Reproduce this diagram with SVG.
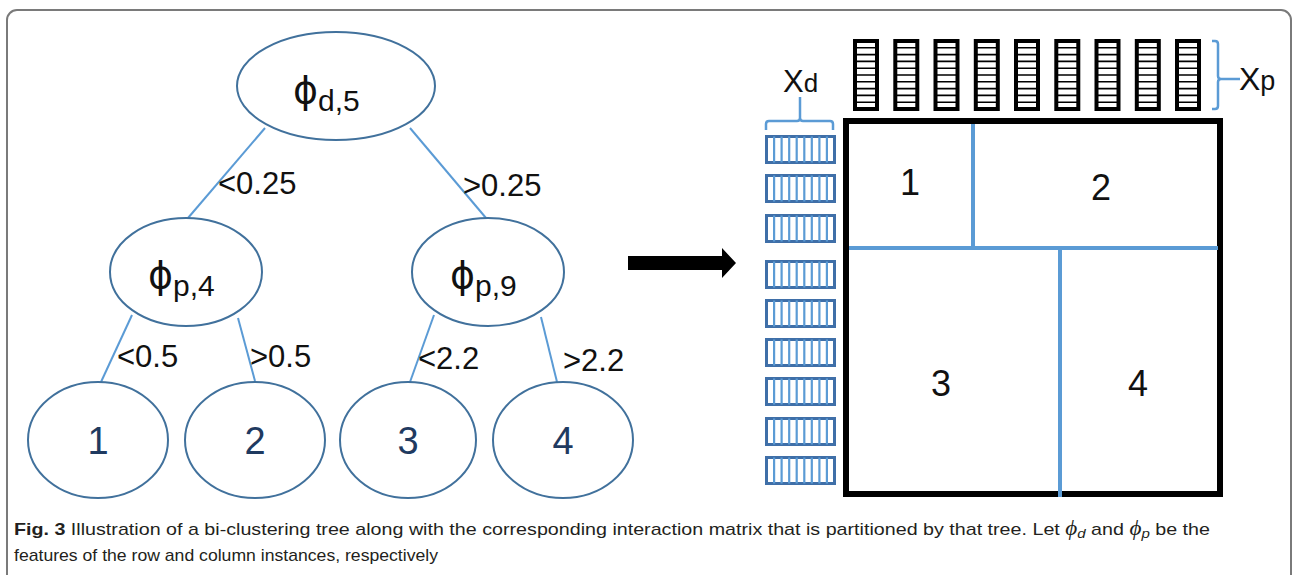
<svg xmlns="http://www.w3.org/2000/svg" xmlns:xlink="http://www.w3.org/1999/xlink" width="1292" height="575" viewBox="0 0 1292 575">
<style>
.node{fill:#fff;stroke:#41719C;stroke-width:2}
.edge{stroke:#5B9BD5;stroke-width:2;fill:none}
.lbl{font-family:"Liberation Sans",Arial,sans-serif;font-size:31px;fill:#111}
.phi{font-family:"DejaVu Sans","Liberation Sans",sans-serif;fill:#111}
.leaf{font-family:"Liberation Sans",Arial,sans-serif;font-size:38px;fill:#1F3A60;text-anchor:middle}
.mnum{font-family:"Liberation Sans",Arial,sans-serif;font-size:36px;fill:#111;text-anchor:middle}
.part{stroke:#5B9BD5;stroke-width:4}
.cap{font-family:"Liberation Sans",Arial,sans-serif;font-size:17px;fill:#231F20}
</style>
<defs>
<g id="colblock">
<rect x="2" y="2" width="22" height="68" fill="#fff" stroke="#000" stroke-width="4"/>
<path d="M2,8.8H24M2,15.6H24M2,22.4H24M2,29.2H24M2,36H24M2,42.8H24M2,49.6H24M2,56.4H24M2,63.2H24" stroke="#000" stroke-width="1.6"/>
</g>
<g id="rowblock">
<rect x="1.5" y="1.5" width="68" height="26" fill="#fff" stroke="#3F6FA8" stroke-width="3"/>
<path d="M9.1,1.5V27.5M16.6,1.5V27.5M24.2,1.5V27.5M31.7,1.5V27.5M39.3,1.5V27.5M46.8,1.5V27.5M54.4,1.5V27.5M61.9,1.5V27.5" stroke="#5B9BD5" stroke-width="2.2"/>
</g>
</defs>
<rect x="0" y="0" width="1292" height="575" fill="#fff"/>
<rect id="frame" x="7" y="10" width="1284" height="620" rx="10" fill="none" stroke="#7A7A7A" stroke-width="2"/>

<g id="connectors">
<line class="edge" x1="265" y1="128" x2="188" y2="218"/>
<line class="edge" x1="410" y1="128" x2="486" y2="218"/>
<line class="edge" x1="132" y1="315" x2="101" y2="382"/>
<line class="edge" x1="238" y1="318" x2="255" y2="381"/>
<line class="edge" x1="434" y1="315" x2="410" y2="382"/>
<line class="edge" x1="541" y1="317" x2="557" y2="382"/>
<text class="lbl" x="218" y="194">&lt;0.25</text>
<text class="lbl" x="463" y="196">&gt;0.25</text>
<text class="lbl" x="117" y="367">&lt;0.5</text>
<text class="lbl" x="250" y="367">&gt;0.5</text>
<text class="lbl" x="418" y="369">&lt;2.2</text>
<text class="lbl" x="563" y="371">&gt;2.2</text>
</g>

<g id="root">
<ellipse class="node" cx="336" cy="86" rx="99" ry="54"/>
<text class="phi" x="293" y="103"><tspan font-size="38">ϕ</tspan><tspan font-size="30" dy="8" font-family="Liberation Sans">d,5</tspan></text>
</g>
<g id="n_p4">
<ellipse class="node" cx="186" cy="272" rx="76" ry="54"/>
<text class="phi" x="148" y="288"><tspan font-size="38">ϕ</tspan><tspan font-size="30" dy="8" font-family="Liberation Sans">p,4</tspan></text>
</g>
<g id="n_p9">
<ellipse class="node" cx="488" cy="272" rx="76" ry="54"/>
<text class="phi" x="450" y="288"><tspan font-size="38">ϕ</tspan><tspan font-size="30" dy="8" font-family="Liberation Sans">p,9</tspan></text>
</g>
<g id="leaf1">
<ellipse class="node" cx="98" cy="440" rx="70" ry="58"/>
<text class="leaf" x="98" y="454">1</text>
</g>
<g id="leaf2">
<ellipse class="node" cx="255" cy="440" rx="70" ry="58"/>
<text class="leaf" x="255" y="454">2</text>
</g>
<g id="leaf3">
<ellipse class="node" cx="408" cy="440" rx="68" ry="58"/>
<text class="leaf" x="408" y="454">3</text>
</g>
<g id="leaf4">
<ellipse class="node" cx="563" cy="440" rx="70" ry="58"/>
<text class="leaf" x="563" y="454">4</text>
</g>

<g id="arrow">
<polygon points="628,256 722,256 722,248 736,263 722,278 722,270 628,270" fill="#000"/>
</g>

<g id="columns">
<use xlink:href="#colblock" x="853" y="39"/>
<use xlink:href="#colblock" x="893.3" y="39"/>
<use xlink:href="#colblock" x="933.5" y="39"/>
<use xlink:href="#colblock" x="973.8" y="39"/>
<use xlink:href="#colblock" x="1014" y="39"/>
<use xlink:href="#colblock" x="1054.3" y="39"/>
<use xlink:href="#colblock" x="1094.5" y="39"/>
<use xlink:href="#colblock" x="1134.8" y="39"/>
<use xlink:href="#colblock" x="1175" y="39"/>
</g>
<g id="Xp">
<path d="M1212,41 H1215 Q1218,41 1218,44 V76 Q1218,79 1221,79 H1240 M1221,79 Q1218,79 1218,82 V106 Q1218,109 1215,109 H1212" fill="none" stroke="#5B9BD5" stroke-width="2.5"/>
<text x="1239" y="90" font-family="Liberation Sans,Arial,sans-serif" font-size="32" fill="#111">X<tspan font-size="27">p</tspan></text>
</g>
<g id="Xd">
<text x="783" y="92" font-family="Liberation Sans,Arial,sans-serif" font-size="31" fill="#111">X<tspan font-size="26">d</tspan></text>
<path d="M766,130 V124 Q766,121 769,121 H797 Q800,121 800,118 V97 M800,118 Q800,121 803,121 H830 Q833,121 833,124 V130" fill="none" stroke="#5B9BD5" stroke-width="2.5"/>
</g>
<g id="rows">
<use xlink:href="#rowblock" x="765" y="135"/>
<use xlink:href="#rowblock" x="765" y="174"/>
<use xlink:href="#rowblock" x="765" y="214"/>
<use xlink:href="#rowblock" x="765" y="260"/>
<use xlink:href="#rowblock" x="765" y="299"/>
<use xlink:href="#rowblock" x="765" y="338"/>
<use xlink:href="#rowblock" x="765" y="377"/>
<use xlink:href="#rowblock" x="765" y="417"/>
<use xlink:href="#rowblock" x="765" y="456"/>
</g>
<g id="matrix">
<rect x="846" y="121" width="374" height="373" fill="#fff" stroke="#000" stroke-width="6"/>
<line class="part" x1="849" y1="248" x2="1218" y2="248"/>
<line class="part" x1="973" y1="124" x2="973" y2="248"/>
<line class="part" x1="1060" y1="248" x2="1060" y2="497"/>
<text class="mnum" x="910" y="195">1</text>
<text class="mnum" x="1101" y="200">2</text>
<text class="mnum" x="941" y="396">3</text>
<text class="mnum" x="1138" y="396">4</text>
</g>

<g id="caption">
<text class="cap" x="14" y="535" textLength="1196" lengthAdjust="spacingAndGlyphs"><tspan font-weight="bold">Fig. 3</tspan> Illustration of a bi-clustering tree along with the corresponding interaction matrix that is partitioned by that tree. Let <tspan font-family="Liberation Serif,serif" font-style="italic" font-size="20">ϕ</tspan><tspan font-style="italic" font-size="13" dy="3">d</tspan><tspan dy="-3"> and </tspan><tspan font-family="Liberation Serif,serif" font-style="italic" font-size="20">ϕ</tspan><tspan font-style="italic" font-size="13" dy="3">p</tspan><tspan dy="-3"> be the</tspan></text>
<text class="cap" x="14" y="561" textLength="424" lengthAdjust="spacingAndGlyphs">features of the row and column instances, respectively</text>
</g>
</svg>
